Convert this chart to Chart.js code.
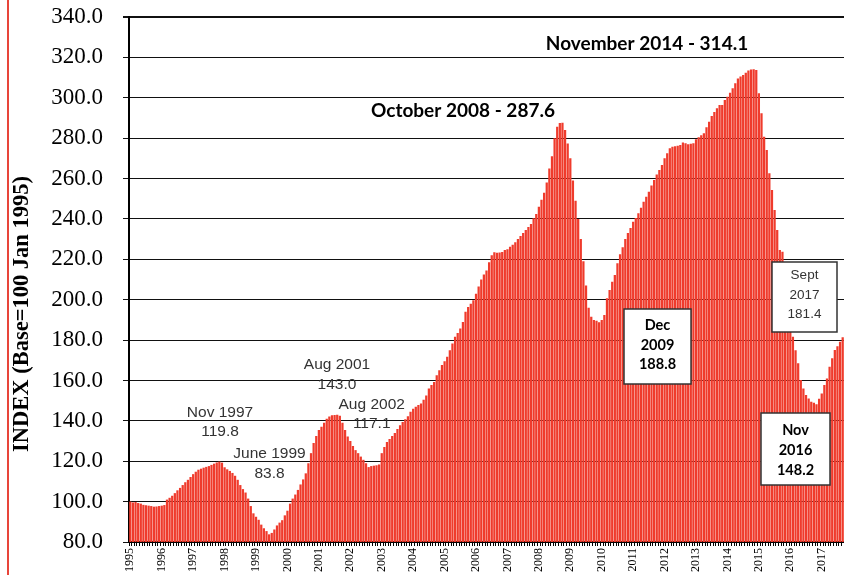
<!DOCTYPE html>
<html>
<head>
<meta charset="utf-8">
<script src="https://cdn.jsdelivr.net/npm/chart.js@4"></script>
<style>
  body { margin: 0; background: #fff; }
  canvas { display: block; }
</style>
</head>
<body>
<canvas id="indexChart" width="844" height="575"></canvas>
<script>
// Monthly index values, Jan 1995 = 100
const years = [1995, 1996, 1997, 1998, 1999, 2000, 2001, 2002, 2003, 2004, 2005, 2006,
               2007, 2008, 2009, 2010, 2011, 2012, 2013, 2014, 2015, 2016, 2017];

const v1995 = [100.0, 99.6, 99.8, 99.3, 99.0, 98.4, 98.2, 98.0, 97.8, 97.5, 97.6, 97.8];
const v1996 = [98.0, 98.3, 101.0, 101.9, 102.9, 104.2, 105.6, 106.8, 108.2, 109.6, 110.8, 112.2];
const v1997 = [113.6, 114.8, 115.8, 116.3, 116.8, 117.2, 117.6, 118.2, 118.8, 119.4, 119.8, 119.3];
const v1998 = [117.0, 116.0, 115.2, 114.2, 112.8, 110.8, 108.2, 106.2, 104.5, 101.5, 97.8, 94.2];
const v1999 = [92.5, 91.0, 88.6, 86.8, 85.4, 83.8, 84.5, 86.2, 88.2, 89.6, 90.8, 93.2];
const v2000 = [95.5, 99.0, 101.5, 103.5, 105.8, 108.5, 111.0, 114.0, 119.0, 124.0, 129.0, 132.5];
const v2001 = [135.5, 137.1, 139.1, 141.0, 142.2, 142.8, 142.9, 143.0, 142.5, 139.0, 135.5, 132.2];
const v2002 = [130.0, 127.5, 125.5, 124.0, 122.3, 120.7, 119.0, 117.1, 117.6, 117.8, 118.0, 118.4];
const v2003 = [124.0, 127.0, 129.5, 131.0, 132.5, 134.0, 136.0, 137.8, 139.4, 140.8, 142.3, 144.5];
const v2004 = [146.0, 147.0, 147.8, 148.6, 150.5, 152.5, 156.0, 157.8, 159.3, 162.6, 165.0, 167.6];
const v2005 = [169.5, 171.7, 175.0, 178.3, 181.6, 183.5, 185.7, 189.0, 194.0, 196.4, 198.0, 199.7];
const v2006 = [203.0, 206.5, 210.0, 212.5, 214.5, 218.5, 222.0, 223.5, 223.3, 223.4, 223.6, 224.6];
const v2007 = [225.0, 226.2, 227.2, 228.5, 230.0, 231.5, 233.0, 234.5, 236.0, 237.5, 240.3, 242.5];
const v2008 = [246.0, 249.5, 253.0, 258.0, 265.0, 271.0, 280.0, 285.7, 287.5, 287.6, 284.0, 277.4];
const v2009 = [270.0, 259.0, 249.0, 240.0, 230.0, 219.0, 207.0, 196.0, 191.5, 190.0, 189.6, 188.8];
const v2010 = [190.0, 192.4, 200.7, 204.8, 208.9, 212.2, 218.0, 222.5, 226.0, 230.0, 233.0, 235.5];
const v2011 = [238.6, 240.5, 242.8, 245.5, 248.5, 251.0, 253.5, 256.5, 259.3, 262.0, 264.2, 266.7];
const v2012 = [270.0, 272.5, 275.0, 275.8, 276.0, 276.3, 276.6, 277.9, 277.5, 277.0, 277.2, 277.5];
const v2013 = [279.5, 280.4, 281.5, 282.4, 285.4, 288.1, 291.0, 293.0, 294.8, 296.4, 296.4, 298.9];
const v2014 = [300.5, 302.5, 304.7, 307.2, 309.6, 310.5, 311.3, 312.4, 313.5, 314.0, 314.1, 313.8];
const v2015 = [302.2, 292.3, 280.7, 274.1, 262.6, 254.3, 244.4, 234.5, 224.6, 223.8, 205.0, 190.0];
const v2016 = [184.0, 181.7, 175.0, 168.5, 160.2, 156.0, 152.8, 151.1, 149.5, 149.0, 148.2, 151.0];
const v2017 = [153.6, 157.7, 161.0, 166.8, 171.0, 175.1, 177.0, 179.2, 181.4]; // to Sept

const yTicks = [80, 100, 120, 140, 160, 180, 200, 220, 240, 260, 280, 300, 320, 340];

const values = [].concat(v1995, v1996, v1997, v1998, v1999, v2000, v2001, v2002, v2003,
  v2004, v2005, v2006, v2007, v2008, v2009, v2010, v2011, v2012, v2013, v2014, v2015, v2016, v2017);

// one category per month, year shown on January only
const labels = values.map((v, i) => (i % 12 === 0 ? String(years[i / 12]) : ''));

// text callouts (pixel layout)
const notes = [
  { text: ['November 2014 - 314.1'], x: 647, y: [44], bold: true, size: 19 },
  { text: ['October 2008 - 287.6'], x: 463, y: [111], bold: true, size: 19 },
  { text: ['Nov 1997', '119.8'], x: 220, y: [412.5, 432], size: 15.5 },
  { text: ['June 1999', '83.8'], x: 269.5, y: [454, 473.5], size: 15.5 },
  { text: ['Aug 2001', '143.0'], x: 337, y: [364.5, 385], size: 15.5 },
  { text: ['Aug 2002', '117.1'], x: 371.7, y: [404.5, 423.5], size: 15.5 },
  { text: ['Dec', '2009', '188.8'], x: 657.5, y: [325, 345, 364], bold: true, size: 14.5, box: [624, 309, 67, 75] },
  { text: ['Sept', '2017', '181.4'], x: 804.5, y: [275, 295.5, 314], size: 13.5, box: [772, 262, 65, 70] },
  { text: ['Nov', '2016', '148.2'], x: 795.5, y: [430, 450.5, 470], bold: true, size: 14.5, box: [761, 413, 69, 72] }
];

const extras = {
  id: 'extras',
  afterDraw(chart) {
    const ctx = chart.ctx;
    ctx.save();
    // red margin line
    ctx.fillStyle = '#e8453a';
    ctx.fillRect(7, 0, 2, 575);

    // y axis title
    ctx.translate(22, 314);
    ctx.rotate(-Math.PI / 2);
    ctx.fillStyle = '#000';
    ctx.font = 'bold 22.5px "Liberation Serif"';
    ctx.textAlign = 'center';
    ctx.textBaseline = 'middle';
    ctx.fillText('INDEX (Base=100 Jan 1995)', 0, 0);
    ctx.setTransform(1, 0, 0, 1, 0, 0);

    notes.forEach(n => {
      if (n.box) {
        ctx.fillStyle = '#fff';
        ctx.fillRect(n.box[0], n.box[1], n.box[2], n.box[3]);
        ctx.strokeStyle = '#333';
        ctx.lineWidth = 1.5;
        ctx.strokeRect(n.box[0], n.box[1], n.box[2], n.box[3]);
      }
      ctx.fillStyle = n.bold ? '#000' : '#333';
      ctx.font = n.bold ? `bold ${n.size}px Lato` : `${n.size}px "Liberation Sans"`;
      ctx.textAlign = 'center';
      ctx.textBaseline = 'middle';
      n.text.forEach((t, i) => ctx.fillText(t, n.x, n.y[i]));
    });
    ctx.restore();
  }
};

new Chart(document.getElementById('indexChart'), {
  type: 'bar',
  data: {
    labels: labels,
    datasets: [{
      data: values,
      backgroundColor: '#ef3b2c',
      borderWidth: 0,
      barPercentage: 0.86,
      categoryPercentage: 1
    }]
  },
  options: {
    responsive: false,
    animation: false,
    layout: { padding: { top: 17, right: 0, bottom: 0, left: 0 } },
    plugins: {
      legend: { display: false },
      tooltip: { enabled: false }
    },
    scales: {
      x: {
        grid: { drawOnChartArea: false, tickLength: 4, color: '#000', offset: true },
        border: { color: '#000', width: 2 },
        ticks: {
          autoSkip: false,
          minRotation: 90,
          maxRotation: 90,
          padding: 2,
          color: '#000',
          font: { family: 'Liberation Serif', size: 12 },
          callback: (v, i) => labels[i]
        },
        afterFit: s => {
          s.height = 33;
          s.paddingLeft = 0;
          s.paddingRight = 0;
        }
      },
      y: {
        min: 80,
        max: 340,
        afterBuildTicks: s => { s.ticks = yTicks.map(v => ({ value: v })); },
        ticks: {
          color: '#000',
          padding: 20,
          font: { family: 'Liberation Serif', size: 23 },
          callback: v => v.toFixed(1)
        },
        grid: {
          color: '#111',
          tickLength: 6,
          lineWidth: c => (c.tick && c.tick.value === 340 ? 2 : 1)
        },
        border: { color: '#000', width: 2 },
        afterFit: s => {
          s.width = 129;
          s.paddingTop = 0;
          s.paddingBottom = 0;
        }
      }
    }
  },
  plugins: [extras]
});
</script>
</body>
</html>
